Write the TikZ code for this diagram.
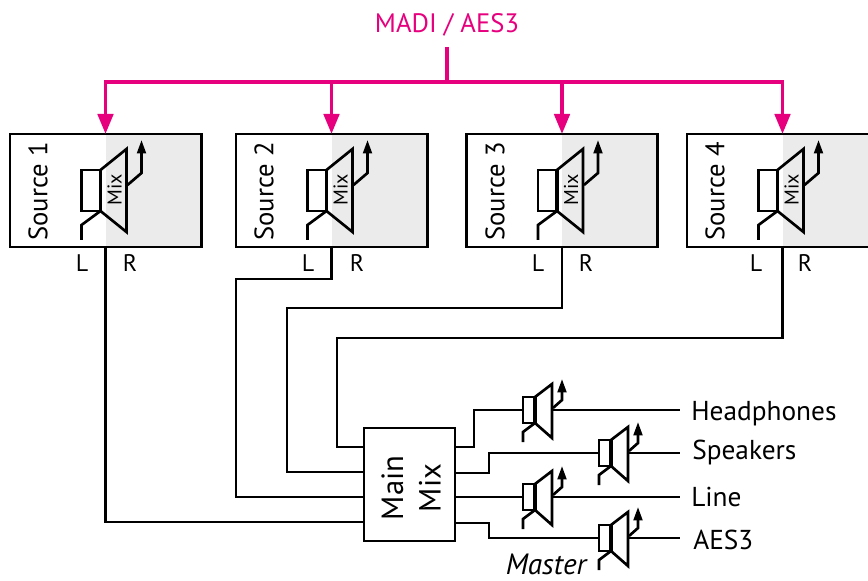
\documentclass[tikz,border=0pt]{standalone}
\usepackage{fontspec}
\setmainfont{PT Sans}
\usetikzlibrary{arrows.meta}
\definecolor{magentaline}{HTML}{E6007E}
\definecolor{panelgrey}{HTML}{EBEBEB}
\tikzset{
  x=0.75pt,y=-0.75pt,
  wire/.style={line width=2pt,line join=miter},
  feed/.style={line width=2.8pt,draw=magentaline,-{Triangle[length=15pt,width=11.5pt,fill=magentaline]},shorten >=0pt},
  boxnode/.style={draw,line width=2pt,inner sep=0pt,outer sep=0pt},
  sourcebox/.style={boxnode,minimum width=143.5pt,minimum height=84.75pt},
  lab/.style={font=\fontsize{18}{22}\selectfont,inner sep=0pt},
  pinklab/.style={font=\fontsize{20}{24}\selectfont,text=magentaline,inner sep=0pt},
  outlab/.style={font=\fontsize{20.5}{24}\selectfont,inner sep=0pt,anchor=west},
  srclab/.style={font=\fontsize{20}{24}\selectfont,rotate=90,inner sep=0pt},
  mixlab/.style={font=\fontsize{15}{18}\selectfont,rotate=90,inner sep=0pt},
  tip/.style={-{Triangle[length=10pt,width=6.5pt]}},
}
% big symbol at the source panels: #1 = panel divide x
\newcommand{\bigamp}[1]{%
  \begin{scope}[shift={(#1,0)}]
    \draw[wire] (-24,170) rectangle (-5,211);
    \draw[wire] (-5,170) -- (21,149) -- (21,232) -- (-5,211);
    \draw[line width=2.6pt] (-5,170) -- (-5,211);
    \draw[wire] (-5,211) -- (-24,225) -- (-24,240);
    \draw[wire,tip] (22,185) -- (36,173) -- (36,140);
    \node[mixlab] at (9,190) {Mix};
  \end{scope}}
% small symbol: #1 = left x, #2 = top y of rectangle, #3 = name prefix
\newcommand{\smallamp}[3]{%
  \begin{scope}[shift={(#1,#2)}]
    \draw[wire] (0,0) rectangle (12,26);
    \draw[wire] (12,0) -- (29,-13) -- (29,41) -- (12,26);
    \draw[line width=2.6pt] (12,0) -- (12,26);
    \draw[wire] (12,26) -- (0,35) -- (0,45);
    \draw[wire,tip] (30,11) -- (39,3) -- (39,-18);
    \coordinate (#3in) at (0,13);
    \coordinate (#3out) at (29,13);
  \end{scope}}
\begin{document}
\begin{tikzpicture}
\useasboundingbox (0,0) rectangle (868,581);
% grey halves
\fill[panelgrey] (105.5,134) rectangle (201,247);
\fill[panelgrey] (331.5,134) rectangle (427,247);
\fill[panelgrey] (562,134) rectangle (658,247);
\fill[panelgrey] (782.5,134) rectangle (868,247);
% source boxes
\node[sourcebox] (s1) at (105.5,190.5) {};
\node[sourcebox] (s2) at (331.5,190.5) {};
\node[sourcebox] (s3) at (562,190.5) {};
\begin{scope}
\clip (0,0) rectangle (868,581);
\node[sourcebox] (s4) at (782.5,190.5) {};
\end{scope}
\node[srclab] at (38,191.5) {Source 1};
\node[srclab] at (264,191.5) {Source 2};
\node[srclab] at (495,191.5) {Source 3};
\node[srclab] at (715,191.5) {Source 4};
\bigamp{105.5}\bigamp{331.5}\bigamp{562}\bigamp{782.5}
\node[lab] at (82,263) {L};
\node[lab] at (130,263) {R};
\node[lab] at (308,263) {L};
\node[lab] at (357,263) {R};
\node[lab] at (538,263) {L};
\node[lab] at (586,263) {R};
\node[lab] at (756,263) {L};
\node[lab] at (805,263) {R};
% MADI
\node[pinklab] (madi) at (447,25) {MADI / AES3};
\coordinate (bus) at (447,82);
\draw[line width=2.8pt,draw=magentaline] (447,47) -- (bus);
\draw[feed] (bus) -| (s1.north);
\draw[feed] (bus) -| (s2.north);
\draw[feed] (bus) -| (s3.north);
\draw[feed] (bus) -| (s4.north);
% main mix
\node[boxnode,minimum width=68.25pt,minimum height=84.75pt] (mm) at (409.5,484.5) {};
\node[font=\fontsize{23}{28}\selectfont,rotate=90,align=center,inner sep=0pt] at (411,488) {Main\\Mix};
\coordinate (m1) at (mm.west |- 0,447);
\coordinate (m2) at (mm.west |- 0,472);
\coordinate (m3) at (mm.west |- 0,497);
\coordinate (m4) at (mm.west |- 0,522);
\draw[wire] (s4.south) -- (782.5,338) -| (337,447) -- (m1);
\draw[wire] (s3.south) -- (562,308) -| (287,472) -- (m2);
\draw[wire] (s2.south) -- (331.5,279) -| (236,497) -- (m3);
\draw[wire] (s1.south) |- (m4);
% outputs
\smallamp{523}{397}{a}
\smallamp{599}{440}{b}
\smallamp{523}{484}{c}
\smallamp{599}{525}{d}
\node[outlab] (hp) at (691,414) {Headphones};
\node[outlab] (sp) at (692,453) {Speakers};
\node[outlab] (li) at (691,497) {Line};
\node[outlab] (ae) at (693,540) {AES3};
\node[font=\fontsize{22}{24}\selectfont\itshape,inner sep=0pt,anchor=base] (master) at (546,574) {Master};
\coordinate (o1) at (mm.east |- 0,447);
\coordinate (o2) at (mm.east |- 0,473);
\coordinate (o3) at (mm.east |- 0,497);
\coordinate (o4) at (mm.east |- 0,523);
\draw[wire] (o1) -- (474,447) |- (ain);
\draw[wire] (o2) -- (489,473) |- (bin);
\draw[wire] (o3) -- (cin);
\draw[wire] (o4) -- (489,523) |- (din);
\draw[wire] (aout) -- (680,410);
\draw[wire] (bout) -- (680,453);
\draw[wire] (cout) -- (680,497);
\draw[wire] (dout) -- (680,538);
\end{tikzpicture}
\end{document}
